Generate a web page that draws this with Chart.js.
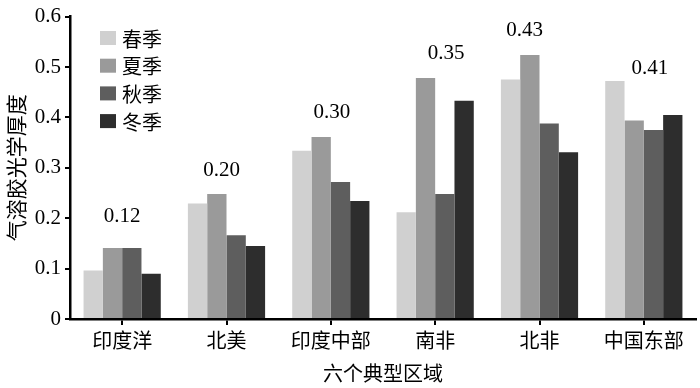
<!DOCTYPE html>
<html>
<head>
<meta charset="utf-8">
<script src="https://cdn.jsdelivr.net/npm/chart.js@4"></script>
<style>
html,body{margin:0;padding:0;background:#fff;}
#wrap{width:700px;height:388px;}
</style>
</head>
<body>
<div id="wrap"><canvas id="c" width="700" height="388"></canvas></div>
<script>
const categories = ['印度洋', '北美', '印度中部', '南非', '北非', '中国东部'];
const seasons = ['春季', '夏季', '秋季', '冬季'];
const spring = [0.096, 0.229, 0.334, 0.212, 0.475, 0.472];
const summer = [0.141, 0.248, 0.361, 0.478, 0.524, 0.394];
const autumn = [0.141, 0.166, 0.272, 0.248, 0.388, 0.375];
const winter = [0.090, 0.145, 0.234, 0.433, 0.331, 0.405];
const meanLabels = ['0.12', '0.20', '0.30', '0.35', '0.43', '0.41'];
const yTicks = [0, 0.1, 0.2, 0.3, 0.4, 0.5, 0.6];

const colors = ['#d0d0d0', '#9a9a9a', '#5e5e5e', '#2d2d2d'];
const serif = '"Liberation Serif", "Times New Roman", serif';
const cjk = '"Noto Sans CJK SC", sans-serif';

const seriesValues = [spring, summer, autumn, winter];

const meanLabelPlugin = {
  id: 'meanLabels',
  afterDatasetsDraw(chart, args, opts) {
    const ctx = chart.ctx;
    const xs = chart.scales.x, ys = chart.scales.y;
    ctx.save();
    ctx.font = '21px ' + serif;
    ctx.fillStyle = '#000';
    ctx.textAlign = 'center';
    ctx.textBaseline = 'middle';
    meanLabels.forEach((t, i) => {
      const x = xs.getPixelForValue(i) + opts.dx[i];
      const y = ys.getPixelForValue(opts.yAt[i]);
      ctx.fillText(t, x, y);
    });
    ctx.restore();
  }
};

const innerLegend = {
  id: 'innerLegend',
  afterDraw(chart, args, opts) {
    const ctx = chart.ctx;
    ctx.save();
    ctx.textBaseline = 'middle';
    ctx.textAlign = 'left';
    ctx.font = '20px ' + cjk;
    chart.data.datasets.forEach((ds, i) => {
      const cy = opts.y0 + i * opts.dy;
      ctx.fillStyle = ds.backgroundColor;
      ctx.fillRect(opts.x0, cy - 7, 16, 14);
      ctx.fillStyle = '#000';
      ctx.fillText(ds.label, opts.x0 + 22, cy + 1);
    });
    ctx.restore();
  }
};

new Chart(document.getElementById('c'), {
  type: 'bar',
  data: {
    labels: categories,
    datasets: seasons.map((s, i) => ({
      label: s,
      data: seriesValues[i],
      backgroundColor: colors[i],
      borderWidth: 0,
      barPercentage: 1.0,
      categoryPercentage: 0.74
    }))
  },
  options: {
    responsive: false,
    animation: false,
    devicePixelRatio: 1,
    layout: { padding: { top: 15, right: 4, left: 0, bottom: 0 } },
    plugins: {
      legend: { display: false },
      tooltip: { enabled: false },
      meanLabels: {
        dx: [0, -5, 1, 11, -15, 6],
        yAt: [0.204, 0.295, 0.410, 0.527, 0.572, 0.497]
      },
      innerLegend: { x0: 100, y0: 38, dy: 27.7 }
    },
    scales: {
      x: {
        offset: true,
        border: { display: true, color: '#000', width: 2.5 },
        grid: { display: true, offset: false, drawOnChartArea: false, drawTicks: true, tickLength: 6, color: '#000', lineWidth: 2 },
        ticks: { color: '#000', font: { family: cjk, size: 20 }, padding: 3, maxRotation: 0 },
        title: { display: true, text: '六个典型区域', color: '#000', font: { family: cjk, size: 20 }, padding: { top: 0, bottom: 3 } },
        afterFit(scale) { scale.height = 69; }
      },
      y: {
        min: 0, max: 0.6,
        afterBuildTicks(scale) { scale.ticks = yTicks.map(v => ({ value: v })); },
        border: { display: true, color: '#000', width: 2.5 },
        grid: { display: true, drawOnChartArea: false, drawTicks: true, tickLength: 5, color: '#000', lineWidth: 2 },
        ticks: {
          color: '#000', font: { family: serif, size: 21 }, padding: 4,
          callback: v => v === 0 ? '0' : Number(v).toFixed(1)
        },
        title: { display: true, text: '气溶胶光学厚度', color: '#000', font: { family: cjk, size: 21 }, padding: { top: 3, bottom: 0 } },
        afterFit(scale) { scale.width = 70; }
      }
    }
  },
  plugins: [meanLabelPlugin, innerLegend]
});
</script>
</body>
</html>
